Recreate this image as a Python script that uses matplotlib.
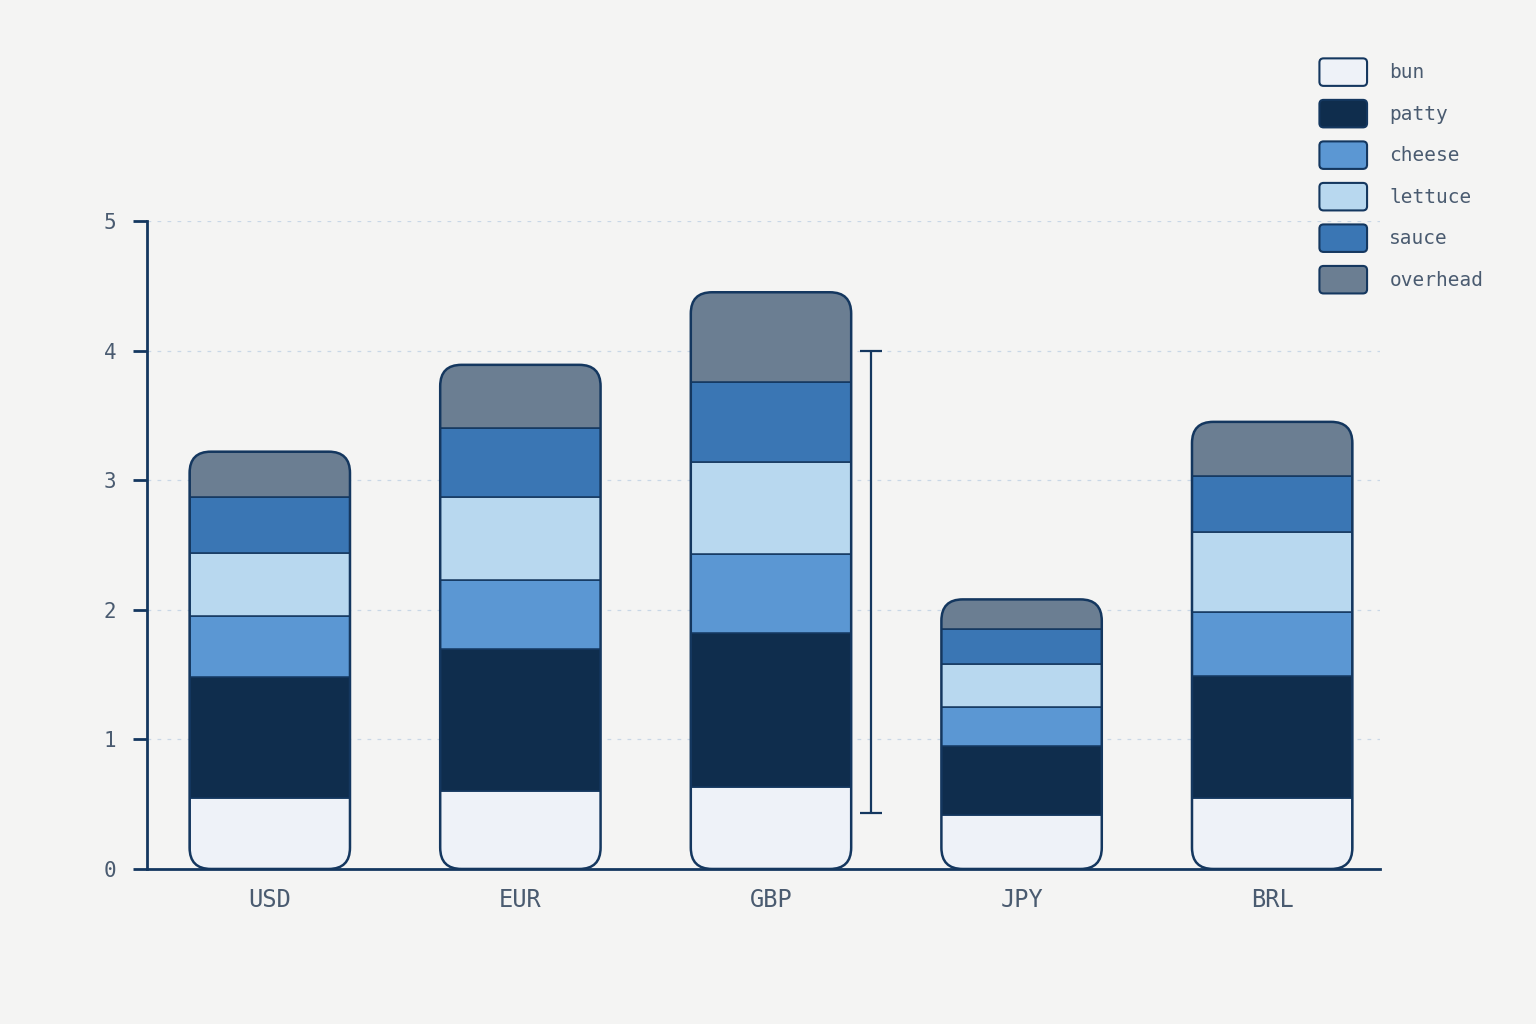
import matplotlib
matplotlib.use("Agg")
import matplotlib.pyplot as plt
import numpy as np
from matplotlib.legend_handler import HandlerPatch
from matplotlib.patches import FancyBboxPatch, Patch

# data
currencies = ["USD", "EUR", "GBP", "JPY", "BRL"]
layers = ["bun", "patty", "cheese", "lettuce", "sauce", "overhead"]
bun = [0.55, 0.60, 0.63, 0.42, 0.55]
patty = [0.93, 1.10, 1.19, 0.53, 0.94]
cheese = [0.475, 0.53, 0.61, 0.30, 0.49]
lettuce = [0.48, 0.64, 0.71, 0.33, 0.62]
sauce = [0.435, 0.53, 0.62, 0.27, 0.43]
overhead = [0.35, 0.49, 0.69, 0.23, 0.42]
range_cat = "GBP"
range_low = 0.43
range_high = 4.0

NAVY = "#14375f"
BG = "#f4f4f3"
TEXT = "#4a5b70"
colors = ["#eef2f8", "#0f2d4d", "#5b97d3", "#b8d8ef", "#3a76b4", "#6b7e92"]
MONO = ["DejaVu Sans Mono"]

fig = plt.figure(figsize=(15.36, 10.24), dpi=100, facecolor=BG)
ax = fig.add_axes([0.0957, 0.1514, 0.8027, 0.6328])
ax.set_facecolor(BG)

x = np.arange(len(currencies))
width = 0.64
ax.set_xlim(-0.49, 4.43)
ax.set_ylim(0, 5)

values = [bun, patty, cheese, lettuce, sauce, overhead]
totals = np.sum(values, axis=0)

# rounded outline per stacked bar, same pixel radius in x and y
fig.canvas.draw()
bb = ax.get_window_extent()
px_x = bb.width / (ax.get_xlim()[1] - ax.get_xlim()[0])
px_y = bb.height / (ax.get_ylim()[1] - ax.get_ylim()[0])
aspect = px_x / px_y
r = 0.085

clips = []
for xi, tot in zip(x, totals):
    p = FancyBboxPatch((xi - width / 2, 0), width, tot,
                       boxstyle=f"round,pad=0,rounding_size={r}",
                       mutation_aspect=aspect, transform=ax.transData,
                       facecolor="none", edgecolor=NAVY, linewidth=1.8, zorder=4)
    ax.add_patch(p)
    clips.append(p)

bottom = np.zeros(len(currencies))
for name, vals, col in zip(layers, values, colors):
    bars = ax.bar(x, vals, width, bottom=bottom, color=col, edgecolor=NAVY,
                  linewidth=1.1, zorder=3, label=name)
    for b, clip in zip(bars, clips):
        b.set_clip_path(clip)
    bottom = bottom + np.array(vals)

# range bar next to GBP
gi = currencies.index(range_cat)
mid = (range_low + range_high) / 2
ax.errorbar([gi + 0.40], [mid], yerr=[[mid - range_low], [range_high - mid]],
            fmt="none", ecolor=NAVY, elinewidth=1.6, capsize=8, capthick=1.6,
            zorder=4)

# axes styling
for s in ["top", "right"]:
    ax.spines[s].set_visible(False)
ax.spines["left"].set_bounds(0, 5)
for s in ["left", "bottom"]:
    ax.spines[s].set_color(NAVY)
    ax.spines[s].set_linewidth(2.0)
ax.set_yticks(range(6))
ax.tick_params(axis="y", length=10, width=2.0, color=NAVY, pad=12,
               labelsize=15, labelcolor=TEXT)
ax.set_xticks(x)
ax.set_xticklabels(currencies)
ax.tick_params(axis="x", length=0, pad=14, labelsize=17, labelcolor=TEXT)
for lab in ax.get_xticklabels() + ax.get_yticklabels():
    lab.set_family(MONO)
ax.yaxis.grid(True, color="#c9d7e6", linestyle=(0, (3, 5)), linewidth=0.9)
ax.set_axisbelow(True)


class RoundHandler(HandlerPatch):
    def create_artists(self, legend, orig_handle, xdescent, ydescent,
                       width, height, fontsize, trans):
        p = FancyBboxPatch((-xdescent, -ydescent), width, height,
                           boxstyle="round,pad=0,rounding_size=3",
                           facecolor=orig_handle.get_facecolor(),
                           edgecolor=NAVY, linewidth=1.5, transform=trans)
        return [p]


handles = [Patch(facecolor=c, label=n) for n, c in zip(layers, colors)]
leg = fig.legend(handles=handles, loc="upper left",
                 bbox_to_anchor=(0.859, 0.943), frameon=False,
                 handler_map={Patch: RoundHandler()},
                 prop={"family": MONO, "size": 14}, labelcolor=TEXT,
                 handlelength=2.45, handleheight=1.8, labelspacing=0.72,
                 handletextpad=1.15, borderpad=0, borderaxespad=0)

fig.savefig("out.png", dpi=100, facecolor=BG)
